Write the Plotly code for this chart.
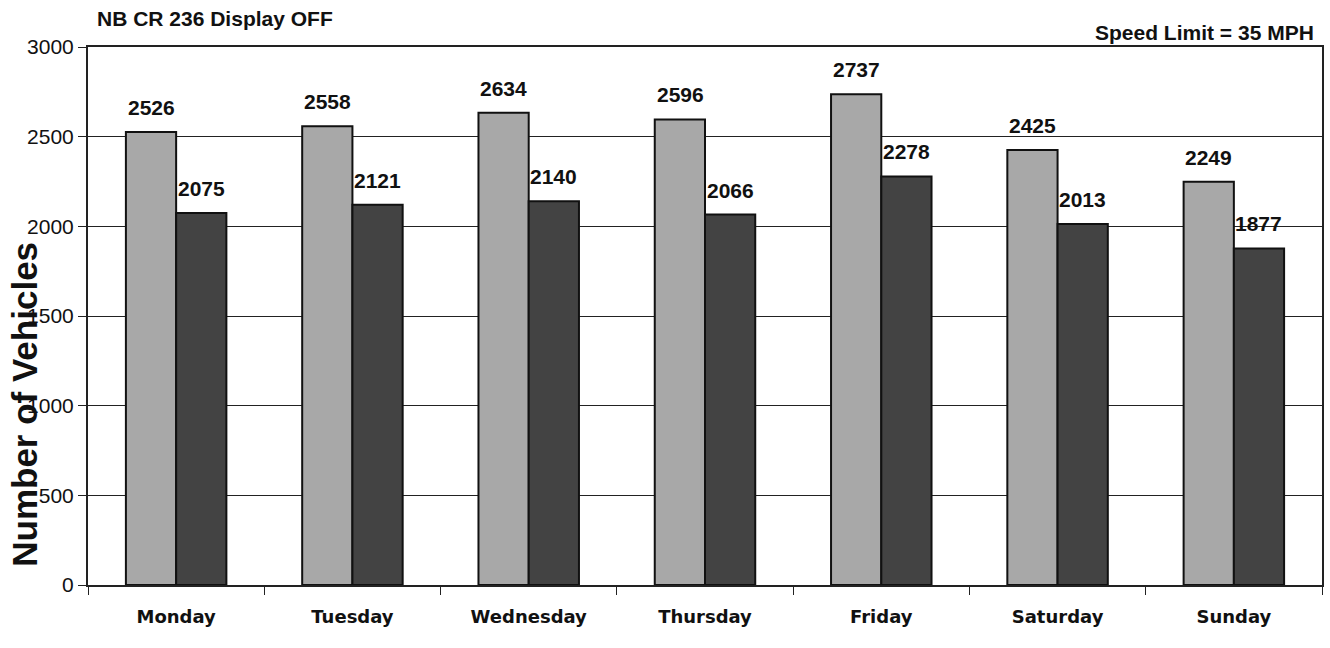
import plotly.graph_objects as go

days = ["Monday", "Tuesday", "Wednesday", "Thursday", "Friday", "Saturday", "Sunday"]
series_a = [2526, 2558, 2634, 2596, 2737, 2425, 2249]
series_b = [2075, 2121, 2140, 2066, 2278, 2013, 1877]
y_ticks = [0, 500, 1000, 1500, 2000, 2500, 3000]

fig = go.Figure()
fig.add_trace(go.Bar(
    x=days, y=series_a, marker=dict(color="#a8a8a8", line=dict(color="#111111", width=2)),
    showlegend=False))
fig.add_trace(go.Bar(
    x=days, y=series_b, marker=dict(color="#434343", line=dict(color="#111111", width=2)),
    showlegend=False))

annotations = []
for vals, shift in ((series_a, -25), (series_b, 25)):
    for d, v in zip(days, vals):
        annotations.append(dict(
            x=d, y=v, xref="x", yref="y", text=f"<b>{v}</b>", showarrow=False,
            xshift=shift, yshift=11, yanchor="bottom", xanchor="center",
            font=dict(family="Liberation Sans", size=21, color="#111111")))

annotations += [
    dict(text="<b>NB CR 236 Display OFF</b>", xref="paper", yref="paper",
         x=0.006, y=1.0, yshift=29, xanchor="left", yanchor="middle", showarrow=False,
         font=dict(family="Liberation Sans", size=21, color="#111111")),
    dict(text="<b>Speed Limit = 35 MPH</b>", xref="paper", yref="paper",
         x=0.9955, y=1.0, yshift=15, xanchor="right", yanchor="middle", showarrow=False,
         font=dict(family="Liberation Sans", size=21, color="#111111")),
    dict(text="<b>Number of Vehicles</b>", xref="paper", yref="paper",
         x=0, xshift=-63, y=0.335, xanchor="center", yanchor="middle", textangle=-90,
         showarrow=False, font=dict(family="Liberation Sans", size=35, color="#111111")),
]

fig.update_layout(
    width=1330, height=648,
    margin=dict(l=88, r=8, t=47, b=63, autoexpand=False),
    paper_bgcolor="white", plot_bgcolor="white",
    barmode="group", bargap=0.43, bargroupgap=0.0,
    font=dict(family="Liberation Sans", color="#111111"),
    xaxis=dict(
        automargin=False,
        showline=True, linecolor="#222222", linewidth=2, mirror=True,
        ticks="outside", tickson="boundaries", ticklen=8, tickcolor="#222222",
        tickfont=dict(family="DejaVu Sans", size=18, color="#111111"),
        tickprefix="<b>", ticksuffix="</b>",
        ticklabelstandoff=14,
    ),
    yaxis=dict(
        automargin=False,
        range=[0, 3000], tickvals=y_ticks,
        showline=True, linecolor="#222222", linewidth=2, mirror=True,
        showgrid=True, gridcolor="#222222", gridwidth=1.2,
        ticks="outside", ticklen=8, tickcolor="#222222",
        tickfont=dict(family="Liberation Sans", size=21, color="#111111"),
        zeroline=False,
    ),
    annotations=annotations,
)

fig.write_html("out.html", config={"displayModeBar": False},
               post_script="document.body.style.margin='0';document.body.style.overflow='hidden';")
